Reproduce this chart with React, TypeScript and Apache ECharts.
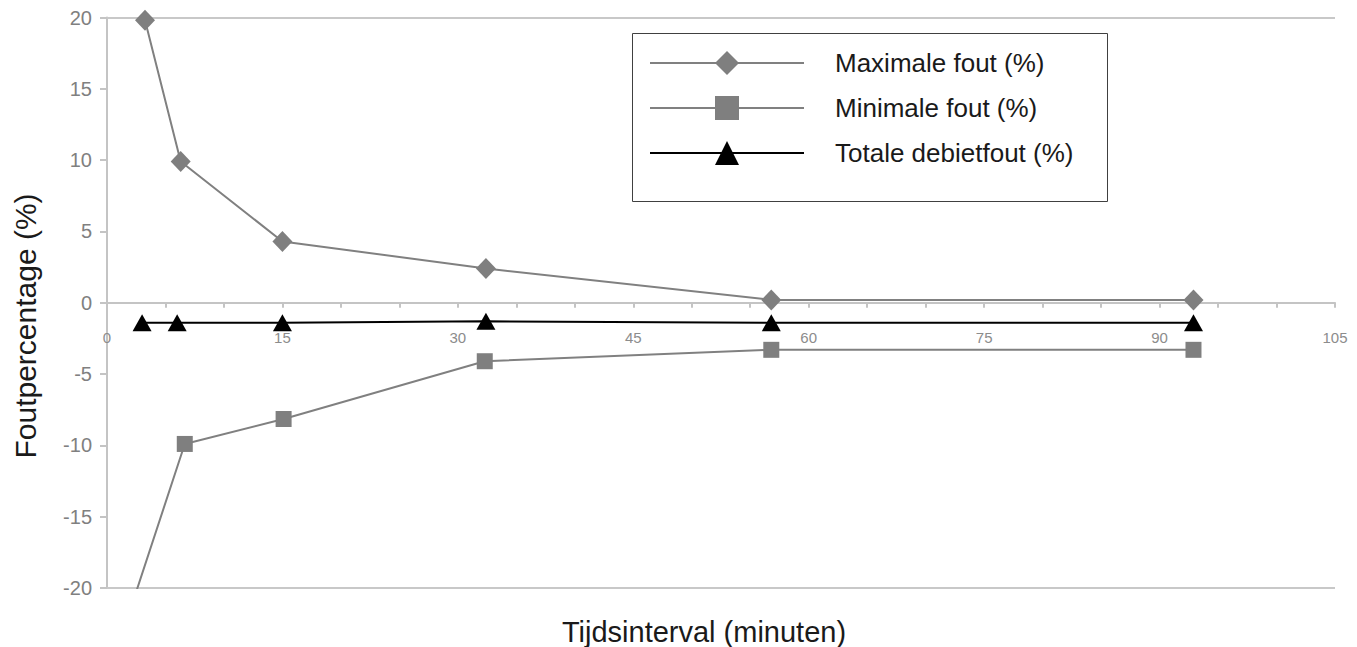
import React, { useEffect, useRef } from "react";
import * as echarts from "echarts";

const seriesNames = ["Maximale fout (%)", "Minimale fout (%)", "Totale debietfout (%)"];

const maxX = [3.25, 6.3, 15, 32.4, 56.8, 92.9];
const maxY = [19.8, 9.9, 4.3, 2.4, 0.2, 0.2];

const minX = [1, 6.65, 15.1, 32.3, 56.8, 92.9];
const minY = [-24, -9.9, -8.15, -4.1, -3.3, -3.3];

const totX = [3, 6, 15, 32.4, 56.8, 92.9];
const totY = [-1.4, -1.4, -1.4, -1.3, -1.4, -1.4];

const yMin = -20;
const yMax = 20;
const xLabelEvery = 15;
const xAxisTitle = "Tijdsinterval (minuten)";
const yAxisTitle = "Foutpercentage (%)";

const pairs = (xs: number[], ys: number[]) => xs.map((x, i) => [x, ys[i]]);

const GRID_TOP = 17.5;
const GRID_BOTTOM = 59;
const HEIGHT = 647;

export default function App() {
  const ref = useRef<HTMLDivElement>(null);
  useEffect(() => {
    if (!ref.current) return;
    const chart = echarts.init(ref.current, null, { renderer: "svg" });
    const font = "'Liberation Sans', Arial, Helvetica, sans-serif";
    // place the x axis line where y = 0 sits in the grid
    const gridBottomY = HEIGHT - GRID_BOTTOM;
    const zeroY = GRID_TOP + ((gridBottomY - GRID_TOP) * (yMax - 0)) / (yMax - yMin);
    const xOffset = -(gridBottomY - zeroY);
    chart.setOption({
      animation: false,
      textStyle: { fontFamily: font },
      grid: { left: 107, right: 22, top: GRID_TOP, bottom: GRID_BOTTOM, containLabel: false },
      legend: {
        orient: "vertical",
        left: 644,
        top: 45,
        itemWidth: 154,
        itemHeight: 30,
        itemGap: 19,
        textStyle: { fontSize: 26, color: "#1a1a1a", fontFamily: font, padding: [0, 0, 0, 26] },
        data: seriesNames,
      },
      xAxis: {
        type: "value",
        min: 0,
        max: 105,
        interval: 5,
        position: "bottom",
        offset: xOffset,
        axisLine: { onZero: false, lineStyle: { color: "#c4c4c4", width: 2 } },
        axisTick: { show: true, length: 5, lineStyle: { color: "#c4c4c4", width: 2 } },
        axisLabel: {
          margin: 27,
          fontSize: 15,
          color: "#8c8c8c",
          fontFamily: font,
          formatter: (v: number) => (v % xLabelEvery === 0 ? String(v) : ""),
        },
        splitLine: { show: false },
      },
      yAxis: {
        type: "value",
        min: yMin,
        max: yMax,
        interval: 5,
        axisLine: { show: true, onZero: false, lineStyle: { color: "#c4c4c4", width: 2 } },
        axisTick: { show: true, length: 7, lineStyle: { color: "#c4c4c4", width: 2 } },
        axisLabel: { margin: 15, fontSize: 20, color: "#808080", fontFamily: font },
        splitLine: { show: false },
      },
      graphic: [
        {
          type: "rect",
          shape: { x: 632.5, y: 33.5, width: 475, height: 168 },
          style: { fill: "none", stroke: "#404040", lineWidth: 1 },
          z: 10,
        },
        {
          type: "text",
          x: 704,
          y: 632,
          style: {
            text: xAxisTitle,
            fontSize: 29,
            fontFamily: font,
            fill: "#1a1a1a",
            align: "center",
            verticalAlign: "middle",
          },
        },
        {
          type: "text",
          x: 25,
          y: 326,
          rotation: Math.PI / 2,
          style: {
            text: yAxisTitle,
            fontSize: 30,
            fontFamily: font,
            fill: "#1a1a1a",
            align: "center",
            verticalAlign: "middle",
          },
        },
      ],
      series: [
        {
          name: seriesNames[0],
          type: "line",
          data: pairs(maxX, maxY),
          symbol: "diamond",
          symbolSize: [20, 21],
          lineStyle: { color: "#808080", width: 2 },
          itemStyle: { color: "#7f7f7f" },
          clip: true,
          z: 3,
          markLine: {
            silent: true,
            symbol: "none",
            label: { show: false },
            lineStyle: { color: "#c8c8c8", width: 2, type: "solid" },
            data: [{ yAxis: yMax }, { yAxis: yMin }],
            z: 1,
          },
        },
        {
          name: seriesNames[1],
          type: "line",
          data: pairs(minX, minY),
          symbol: "rect",
          symbolSize: 16,
          lineStyle: { color: "#808080", width: 2 },
          itemStyle: { color: "#7f7f7f" },
          clip: true,
          z: 3,
        },
        {
          name: seriesNames[2],
          type: "line",
          data: pairs(totX, totY),
          symbol: "triangle",
          symbolSize: [19, 17],
          lineStyle: { color: "#000000", width: 2 },
          itemStyle: { color: "#000000" },
          clip: true,
          z: 3,
        },
      ],
    });
    return () => chart.dispose();
  }, []);
  return (
    <div
      ref={ref}
      style={{ position: "absolute", left: 0, top: 0, width: 1357, height: 647, background: "#fff" }}
    />
  );
}
